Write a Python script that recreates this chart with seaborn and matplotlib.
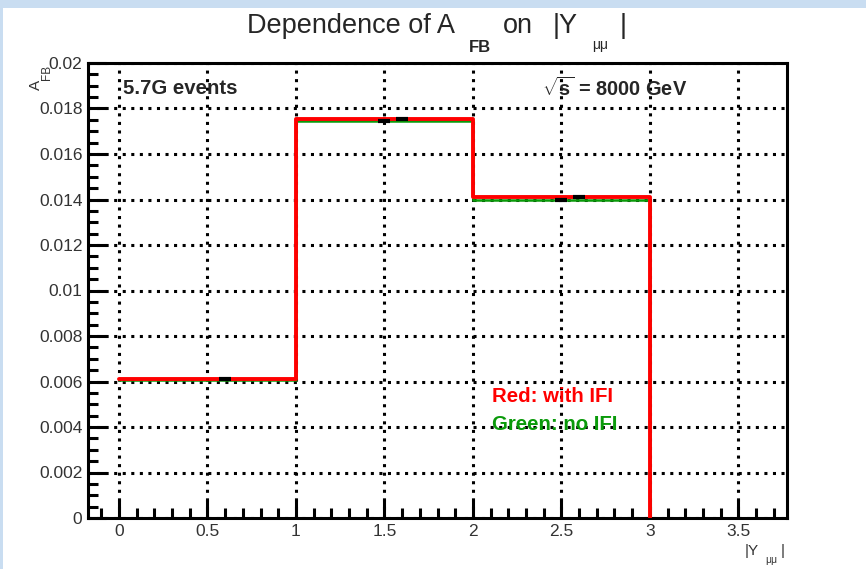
"""
Dependence of A_FB on |Y_mumu| -- ROOT-style step histogram
"""
import numpy as np
import pandas as pd
import matplotlib
matplotlib.use("Agg")
import matplotlib.pyplot as plt
from matplotlib.ticker import MultipleLocator, FuncFormatter
import seaborn as sns

# bin edges and contents
bin_edges = [0.0, 1.0, 2.0, 3.0]
afb_with_ifi = [0.00611, 0.01753, 0.01410]   # red
afb_no_ifi = [0.00606, 0.01744, 0.01399]     # green
# marker positions (offset bin centres) and small errors
marker_x_red = [0.6, 1.6, 2.6]
marker_x_green = [1.5, 2.5]          # first-bin green marker is hidden in the original
err_red = [0.00003, 0.00004, 0.00005]
err_green = [0.00004, 0.00006]

W, H = 866, 569


def step_frame(values, label):
    xs = bin_edges + [bin_edges[-1]]
    ys = list(values) + [values[-1], 0.0]
    return pd.DataFrame({"x": xs, "y": ys, "series": label})


def ptext(px, py, s, **kw):
    # place text at pixel position (from top-left)
    return fig.text(px / W, 1 - py / H, s, **kw)


sns.set_theme(style="white")
plt.rcParams["font.family"] = ["Liberation Sans", "DejaVu Sans"]
plt.rcParams["mathtext.fontset"] = "custom"
plt.rcParams["mathtext.rm"] = "Liberation Sans"
plt.rcParams["mathtext.it"] = "Liberation Sans"
plt.rcParams["mathtext.bf"] = "Liberation Sans:bold"

fig = plt.figure(figsize=(W / 100, H / 100), dpi=100)
fig.patch.set_facecolor("#c9ddf1")
fig.patches.append(plt.Rectangle((3 / W, 0), 1, 1 - 8 / H,
                                 transform=fig.transFigure,
                                 facecolor="white", edgecolor="none", zorder=-1))
ax = fig.add_axes([88 / W, 51 / H, 699 / W, 455 / H])
ax.set_facecolor("white")

green_df = step_frame(afb_no_ifi, "green")
red_df = step_frame(afb_with_ifi, "red")
sns.lineplot(data=green_df, x="x", y="y", estimator=None, sort=False,
             drawstyle="steps-post", color="#0a9a0a", linewidth=1.8, ax=ax, zorder=3)
sns.lineplot(data=red_df, x="x", y="y", estimator=None, sort=False,
             drawstyle="steps-post", color="#ff0000", linewidth=2.8, ax=ax, zorder=4)

# small black error-bar markers
ax.errorbar(marker_x_green, afb_no_ifi[1:], yerr=err_green, fmt="_", color="black",
            markersize=9, mew=3, elinewidth=1.5, zorder=5)
ax.errorbar(marker_x_red, afb_with_ifi, yerr=err_red, fmt="_", color="black",
            markersize=9, mew=3, elinewidth=1.5, zorder=5)

ax.set_xlim(-0.175, 3.775)
ax.set_ylim(0, 0.02)

ax.xaxis.set_major_locator(MultipleLocator(0.5))
ax.xaxis.set_minor_locator(MultipleLocator(0.1))
ax.yaxis.set_major_locator(MultipleLocator(0.002))
ax.yaxis.set_minor_locator(MultipleLocator(0.0005))
fmt = FuncFormatter(lambda v, p: "0" if abs(v) < 1e-12 else f"{v:g}")
ax.xaxis.set_major_formatter(fmt)
ax.yaxis.set_major_formatter(fmt)

ax.tick_params(axis="both", which="major", direction="in", length=13, width=2.2,
               color="black", labelsize=12.5, labelcolor="#333333", pad=4)
ax.tick_params(axis="both", which="minor", direction="in", length=7, width=2.2,
               color="black")
ax.tick_params(axis="x", which="both", bottom=True, top=False)
ax.tick_params(axis="y", which="both", left=True, right=False)

for s in ax.spines.values():
    s.set_visible(True)
    s.set_color("black")
    s.set_linewidth(2.2)

ax.grid(True, which="major", color="black", linestyle=(0, (1, 1.8)), linewidth=2.2)
ax.set_axisbelow(True)

ax.set_xlabel("")
ax.set_ylabel("")

# title, built in pieces to get the deep ROOT-style subscripts
ptext(247, 33, "Dependence of A", fontsize=19.5, va="baseline", ha="left")
ptext(469, 52, "FB", fontsize=12, fontweight="bold", va="baseline", ha="left")
ptext(503, 33, "on", fontsize=19.5, va="baseline", ha="left")
ptext(553, 33, "|Y", fontsize=19.5, va="baseline", ha="left")
ptext(592, 49, "\u03bc\u03bc", fontsize=10, va="baseline", ha="left")
ptext(620, 33, "|", fontsize=19.5, va="baseline", ha="left")

# y axis title
ptext(36, 85, "A", fontsize=11, rotation=90, ha="center", va="center", color="#333333")
ptext(47, 72, "FB", fontsize=8.5, rotation=90, ha="center", va="center", color="#333333")

# x axis title
ptext(745, 555, "|Y", fontsize=11, ha="left", va="baseline", color="#333333")
ptext(765, 563, "\u03bc\u03bc", fontsize=7.5, ha="left", va="baseline", color="#333333")
ptext(781, 555, "|", fontsize=11, ha="left", va="baseline", color="#333333")

ax.text(0.023, 0.0189, "5.7G events", fontsize=14.7, fontweight="bold", va="center")
ax.text(2.39, 0.0189, r"$\sqrt{\mathbf{s}}$ = 8000 GeV", fontsize=14.4,
        fontweight="bold", va="center")
ax.text(2.108, 0.00532, "Red: with IFI", fontsize=14.7, fontweight="bold",
        color="#ff0000", va="center")
ax.text(2.108, 0.00409, "Green: no IFI", fontsize=14.7, fontweight="bold",
        color="#0a9a0a", va="center")

fig.savefig("out.png", dpi=100, facecolor=fig.get_facecolor())
